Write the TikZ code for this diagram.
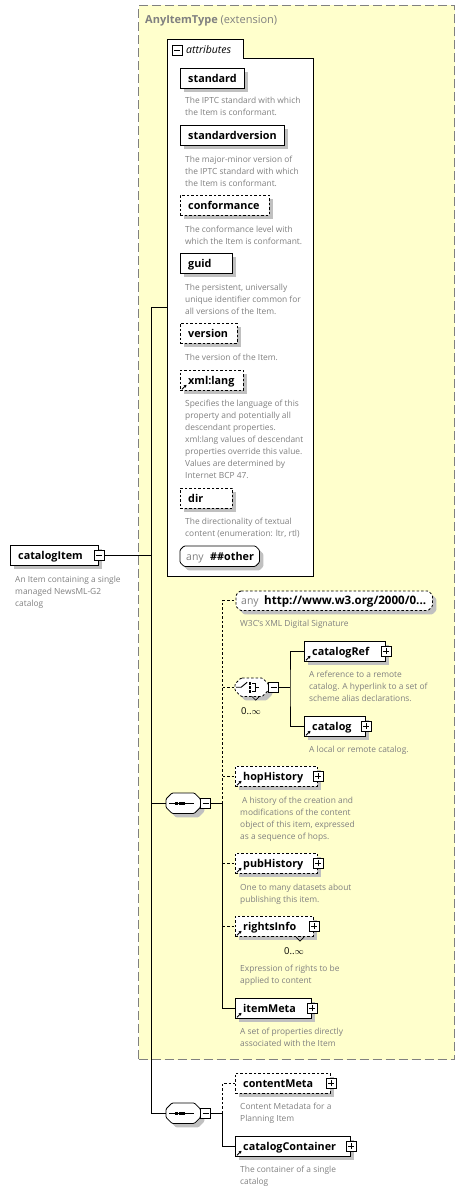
\documentclass[tikz,border=0pt]{standalone}
\usepackage{fontspec}
\setmainfont{Open Sans}
\usetikzlibrary{arrows.meta,shadows}
\definecolor{yel}{RGB}{255,255,204}
\definecolor{shd}{RGB}{192,192,192}
\definecolor{dsc}{RGB}{128,128,128}
\definecolor{frm}{RGB}{128,128,128}
\tikzset{
 shd/.style={drop shadow={shadow xshift=4pt, shadow yshift=-4pt, fill=shd, opacity=1}},
 ebox/.style={draw, line width=0.8pt, fill=white, minimum height=20pt, inner sep=0pt, anchor=north west, shd},
 opt/.style={dash pattern=on 2.5pt off 2pt},
 lbl/.style={font=\bfseries\fontsize{10.8}{12}\selectfont, anchor=base west, inner sep=0pt},
 desc/.style={font=\fontsize{8.4}{12}\selectfont, text=dsc, align=left, anchor=north west, inner sep=0pt},
 pmbox/.style={draw, fill=white, minimum size=10pt, inner sep=0pt, line width=0.6pt},
 plus/.style={pmbox, path picture={\draw[line width=0.6pt] ([xshift=-3pt]path picture bounding box.center) -- ([xshift=3pt]path picture bounding box.center) ([yshift=-3pt]path picture bounding box.center) -- ([yshift=3pt]path picture bounding box.center);}},
 minus/.style={pmbox, path picture={\draw[line width=0.6pt] ([xshift=-3pt]path picture bounding box.center) -- ([xshift=3pt]path picture bounding box.center);}},
 refarr/.style={-{Triangle[length=2.5pt,width=3pt]}, line width=0.9pt},
 octnode/.style={inner sep=0pt, anchor=north west},
 conn/.style={line width=0.8pt},
 mult/.style={font=\fontsize{9.5}{10}\selectfont, inner sep=0pt},
}
\newcommand\xbox[6]{%
  \node[ebox,#6,minimum width=#4-#2] (#1) at (#2,#3) {};
  \node[lbl] (#1-t) at (#2+8,#3+14.5) {#5};}
\newcommand\xref[1]{\draw[refarr] ([shift={(2,-1.5)}]#1.south west) -- ++(4.5,-4.5);}
\newcommand\xplus[1]{\node[plus] (#1-p) at (#1.east) {};}
\newcommand\xdesc[4]{\node[desc] (#1-d) at (#2,#3) {#4};}
% octagon outline round a named node: name, chamfer, dx, dy, style
\newcommand\octo[5]{%
  \draw[#5] ([shift={(#2+#3,#4)}]#1.north west) -- ([shift={(-#2+#3,#4)}]#1.north east) -- ([shift={(#3,#2+#4)}]#1.north east) -- ([shift={(#3,-#2+#4)}]#1.south east) -- ([shift={(-#2+#3,#4)}]#1.south east) -- ([shift={(#2+#3,#4)}]#1.south west) -- ([shift={(#3,-#2+#4)}]#1.south west) -- ([shift={(#3,#2+#4)}]#1.north west) -- cycle;}
\newcommand\octshape[3]{% name, chamfer, extra style
  \octo{#1}{#2}{4}{4}{draw=none, fill=shd, rounded corners=1pt}%
  \octo{#1}{#2}{0}{0}{line width=0.8pt, fill=white, rounded corners=1pt, #3}}
\begin{document}
\begin{tikzpicture}[x=1pt,y=-1pt]
\useasboundingbox (0,0) rectangle (465,1193);
% extension container
\node[draw=frm, line width=1pt, dash pattern=on 9pt off 4pt, fill=yel, minimum width=316pt, minimum height=1054pt, inner sep=0pt, anchor=north west] (ext) at (138,5) {};
\node[anchor=base west, inner sep=0pt, text=dsc, font=\fontsize{11}{12}\selectfont] (ext-t) at (145,24) {\textbf{AnyItemType} (extension)};
% attributes container
\draw[line width=0.8pt, fill=white] (167,576) -- (167,39) -- (243,39) -- (243,58) -- (313,58) -- (313,576) -- cycle;
\coordinate (attrL) at (167,307);
\node[minus] (attr-m) at (177,50.5) {};
\node[anchor=base west, inner sep=0pt, font=\itshape\fontsize{10.5}{12}\selectfont] (attr-t) at (186,54) {attributes};
% attributes
\xbox{std}{180}{68}{244}{standard}{}
\xdesc{std}{185}{97}{The IPTC standard with which\\the Item is conformant.}
\xbox{stdv}{180}{125}{284}{standardversion}{}
\xdesc{stdv}{185}{155.5}{The major-minor version of\\the IPTC standard with which\\the Item is conformant.}
\xbox{conf}{180}{195}{269}{conformance}{opt}
\xdesc{conf}{185}{225.5}{The conformance level with\\which the Item is conformant.}
\xbox{guid}{180}{253}{232}{guid}{}
\xdesc{guid}{185}{283.5}{The persistent, universally\\unique identifier common for\\all versions of the Item.}
\xbox{ver}{180}{323}{237}{version}{opt}
\xdesc{ver}{185}{353.5}{The version of the Item.}
\xbox{lang}{180}{370}{243}{xml:lang}{opt}
\xref{lang}
\xdesc{lang}{185}{399.5}{Specifies the language of this\\property and potentially all\\descendant properties.\\xml:lang values of descendant\\properties override this value.\\Values are determined by\\Internet BCP 47.}
\xbox{dir}{180}{488}{232}{dir}{opt}
\xdesc{dir}{185}{518}{The directionality of textual\\content (enumeration: ltr, rtl)}
\node[octnode, minimum width=79pt, minimum height=20pt] (oth) at (180,546) {};
\octshape{oth}{4}{}
\node[anchor=base west, inner sep=0pt, font=\fontsize{10.5}{12}\selectfont, text=dsc] (oth-a) at (186,560.5) {any};
\node[lbl] (oth-t) at (210,560.5) {\#\#other};
% root
\xbox{ci}{10}{545}{98}{catalogItem}{}
\node[minus] (ci-m) at (ci.east) {};
\xdesc{ci}{15}{576}{An Item containing a single\\managed NewsML-G2\\catalog}
% sequence 1
\node[octnode, minimum width=34pt, minimum height=20pt] (s1) at (166,793) {};
\octshape{s1}{6}{}
\node[minus, anchor=west] (s1-m) at (s1.east) {};
\draw[line width=0.9pt] ([xshift=-14]s1.center) -- ([xshift=11]s1.center);
\foreach \d in {-6.5,-3,0.5} \fill ([shift={(\d-1.3,-1.3)}]s1.center) rectangle ++(2.6,2.6);
% any http
\node[octnode, minimum width=196pt, minimum height=19pt] (ah) at (236,591) {};
\octshape{ah}{4}{opt}
\node[anchor=base west, inner sep=0pt, font=\fontsize{10.5}{12}\selectfont, text=dsc] (ah-a) at (241,604.5) {any};
\node[lbl, font=\bfseries\fontsize{11.6}{12}\selectfont] (ah-t) at (264,604.5) {http://www.w3.org/2000/0...};
\xdesc{ah}{240}{619.5}{W3C's XML Digital Signature}
% choice
\node[octnode, minimum width=33pt, minimum height=18pt] (ch) at (235,678) {};
\octshape{ch}{6}{opt}
\node[minus, anchor=west] (ch-m) at (ch.east) {};
\draw[line width=0.9pt] ([xshift=-15.5]ch.center) -- ([xshift=-10.5]ch.center) -- ([shift={(-4.5,-5)}]ch.center);
\foreach \d in {-4,0,4} \fill ([shift={(-3.2,\d-1.3)}]ch.center) rectangle ++(2.7,2.6);
\draw[line width=0.8pt] ([shift={(0.5,-4)}]ch.center) -- ++(3,0) -- ++(0,8) -- ++(-3,0) ([shift={(3.5,0)}]ch.center) -- ++(4,0);
\draw[line width=0.7pt] ([shift={(0,9)}]ch.center) -- ++(4,4) -- ++(4,-4);
\node[mult, anchor=base west] (ch-n) at (241,714.5) {0..$\infty$};
\xbox{cref}{304}{641}{385}{catalogRef}{}
\xref{cref}\xplus{cref}
\xdesc{cref}{309}{670.5}{A reference to a remote\\catalog. A hyperlink to a set of\\scheme alias declarations.}
\xbox{cat}{304}{716}{365}{catalog}{}
\xref{cat}\xplus{cat}
\xdesc{cat}{309}{745.5}{A local or remote catalog.}
% sequence 1 children
\xbox{hop}{235}{766}{317}{hopHistory}{opt}
\xref{hop}\xplus{hop}
\xdesc{hop}{240}{797}{\hspace*{2pt}A history of the creation and\\modifications of the content\\object of this item, expressed\\as a sequence of hops.}
\xbox{pub}{235}{853}{317}{pubHistory}{opt}
\xref{pub}\xplus{pub}
\xdesc{pub}{240}{883.5}{One to many datasets about\\publishing this item.}
\xbox{ri}{235}{916}{313}{rightsInfo}{opt}
\xref{ri}\xplus{ri}
\draw[line width=0.7pt] (296,937) -- ++(4,4) -- ++(4,-4);
\node[mult, anchor=base west] (ri-n) at (284,954) {0..$\infty$};
\xdesc{ri}{240}{964.5}{Expression of rights to be\\applied to content}
\xbox{im}{235}{998}{311}{itemMeta}{}
\xref{im}\xplus{im}
\xdesc{im}{240}{1027.5}{A set of properties directly\\associated with the Item}
% sequence 2
\node[octnode, minimum width=34pt, minimum height=20pt] (s2) at (166,1103) {};
\octshape{s2}{6}{}
\node[minus, anchor=west] (s2-m) at (s2.east) {};
\draw[line width=0.9pt] ([xshift=-14]s2.center) -- ([xshift=11]s2.center);
\foreach \d in {-6.5,-3,0.5} \fill ([shift={(\d-1.3,-1.3)}]s2.center) rectangle ++(2.6,2.6);
\xbox{cm}{235}{1073}{330}{contentMeta}{opt}
\xplus{cm}
\xdesc{cm}{240}{1102.5}{Content Metadata for a\\Planning Item}
\xbox{cc}{235}{1136}{350}{catalogContainer}{}
\xref{cc}\xplus{cc}
\xdesc{cc}{240}{1166}{The container of a single\\catalog}
% connectors
\coordinate (tk) at (151,307);
\draw[conn] (attrL) -- (tk) |- (s2.west);
\draw[conn] (ci-m.east) -- (ci-m.east -| tk);
\draw[conn] (s1.west) -- (s1.west -| tk);
\draw[conn] (s1-m.east) -- ++(11.5,0) coordinate (s1v);
\draw[conn,opt] (s1v) -- (s1v |- ah.west) -- (ah.west);
\draw[conn,opt] (ch.west -| s1v) -- (ch.west);
\draw[conn,opt] (hop.west -| s1v) -- (hop.west);
\draw[conn] (s1v) -- (s1v |- im.west) -- (im.west);
\draw[conn,opt] (pub.west -| s1v) -- (pub.west);
\draw[conn,opt] (ri.west -| s1v) -- (ri.west);
\draw[conn] (ch-m.east) -- ++(11,0) coordinate (chv);
\draw[conn] (cref.west) -| (chv) |- (cat.west);
\draw[conn] (s2-m.east) -- ++(11.5,0) coordinate (s2v);
\draw[conn,opt] (s2v) |- (cm.west);
\draw[conn] (s2v) |- (cc.west);
\end{tikzpicture}
\end{document}
